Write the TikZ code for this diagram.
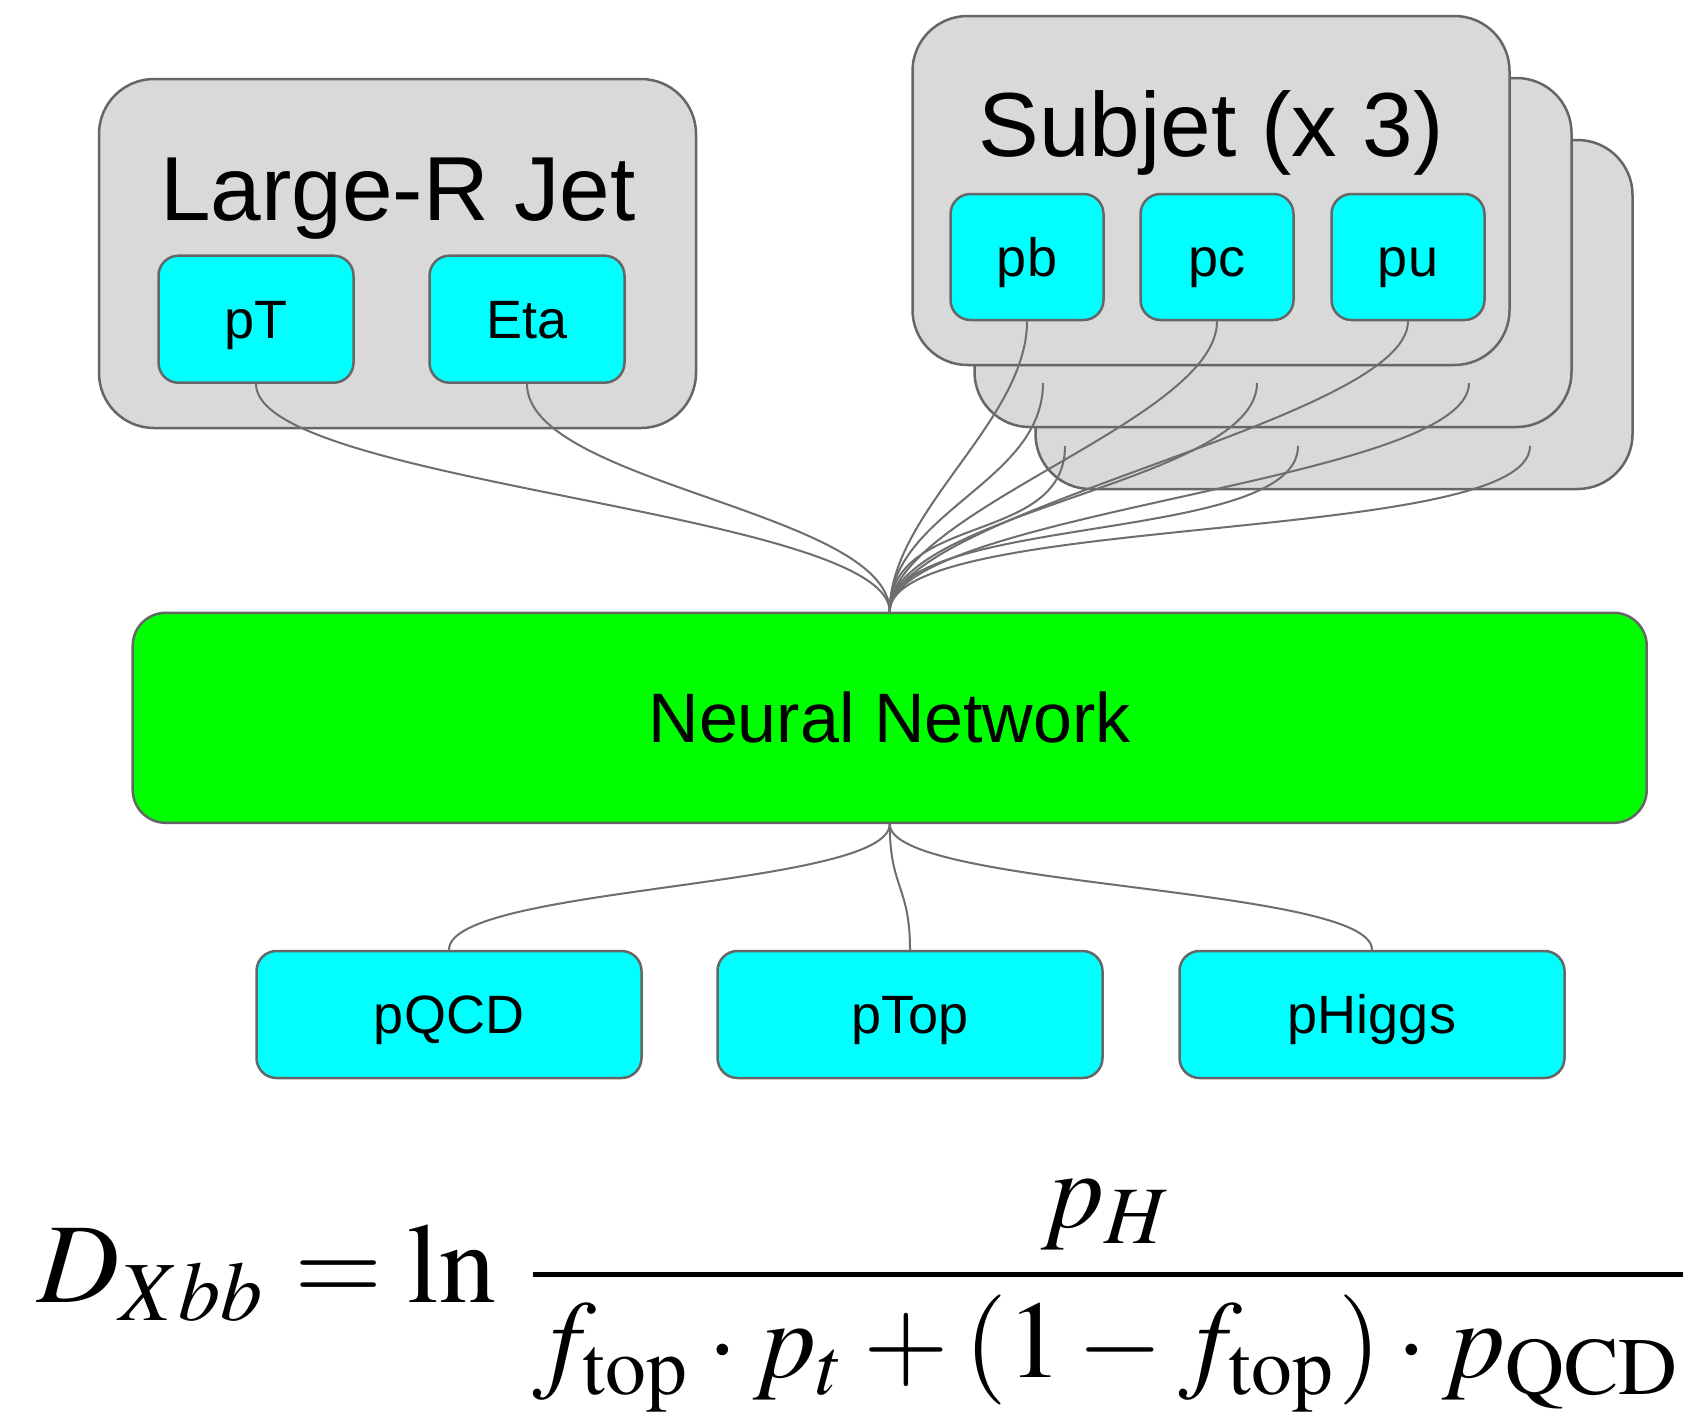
\documentclass[tikz,border=0pt]{standalone}
\usepackage{mathptmx}
\usepackage[no-math]{fontspec}
\usepackage{graphicx}
\newfontfamily\arial{Liberation Sans}

\definecolor{boxgray}{HTML}{D9D9D9}
\definecolor{edgegray}{HTML}{666666}
\definecolor{wiregray}{HTML}{6E6E6E}
\definecolor{inputcyan}{HTML}{00FFFF}
\definecolor{netgreen}{HTML}{00FF00}

\tikzset{
  groupbox/.style={draw=edgegray, fill=boxgray, line width=2.5pt,
    rounded corners=55pt, inner sep=0pt, minimum width=597pt, minimum height=349pt},
  varbox/.style={draw=edgegray, fill=inputcyan, line width=2.5pt,
    rounded corners=20pt, inner sep=0pt, font=\arial\fontsize{54}{60}\selectfont,
    text height=38.7pt, text depth=0pt},
  netbox/.style={draw=edgegray, fill=netgreen, line width=2.5pt,
    rounded corners=33pt, inner sep=0pt, font=\arial\fontsize{70}{80}\selectfont,
    text height=50.1pt, text depth=0pt, minimum width=1514pt, minimum height=210pt},
  title/.style={anchor=base, inner sep=0pt, font=\arial\fontsize{91}{100}\selectfont},
  wire/.style={draw=wiregray, line width=2pt},
  eqpart/.style={anchor=base west, inner sep=0pt},
}

\begin{document}
\begin{tikzpicture}[x=1pt, y=-1pt]
\useasboundingbox (0,0) rectangle (1691,1411);
\fill[white] (0,0) rectangle (1691,1411);

% large-R jet group
\node[groupbox] (jet) at (397.5,253.5) {};
\node[title] (jettitle) at (398,220) {Large-R Jet};
\node[varbox, minimum width=195pt, minimum height=127pt] (pT) at (256,319.2) {pT};
\node[varbox, minimum width=195pt, minimum height=127pt] (eta) at (527,319.2) {Eta};

% stacked subjet groups (back to front)
\node[groupbox] (sj3) at (1334,314.5) {};
\node[groupbox] (sj2) at (1273,252.5) {};
\node[groupbox] (sj1) at (1211,190.5) {};
\node[title] (sjtitle) at (1211,156.5) {Subjet (x 3)};
\node[varbox, minimum width=153pt, minimum height=126pt] (pb) at (1027,257) {pb};
\node[varbox, minimum width=153pt, minimum height=126pt] (pc) at (1217,257) {pc};
\node[varbox, minimum width=153pt, minimum height=126pt] (pu) at (1408,257) {pu};

% outputs of the hidden subjet copies
\coordinate (pb2) at (1043,383);
\coordinate (pc2) at (1257,383);
\coordinate (pu2) at (1469,383);
\coordinate (pb3) at (1065,446);
\coordinate (pc3) at (1298,446);
\coordinate (pu3) at (1530,446);

% network
\node[netbox] (nn) at (889.7,717.8) {Neural Network};

% output classes
\node[varbox, minimum width=385pt, minimum height=127pt] (pqcd) at (449,1014.5) {pQCD};
\node[varbox, minimum width=385pt, minimum height=127pt] (ptop) at (910,1014.5) {pTop};
\node[varbox, minimum width=385pt, minimum height=127pt] (phiggs) at (1372,1014.5) {pHiggs};

% inputs into the network
\foreach \src in {pT, eta, pb, pc, pu}
  \draw[wire] (\src.south) .. controls +(0,100) and +(0,-100) .. (nn.north);
\foreach \src in {pb2, pc2, pu2, pb3, pc3, pu3}
  \draw[wire] (\src) .. controls +(0,100) and +(0,-100) .. (nn.north);

% network to outputs
\foreach \dst in {pqcd, ptop, phiggs}
  \draw[wire] (nn.south) .. controls +(0,64) and +(0,-64) .. (\dst.north);

% discriminant: left-hand side and the fraction
\node[eqpart] (lhs) at (37.5,1302)
  {\resizebox{458pt}{!}{$\displaystyle D_{Xbb} = \ln$}};
\node[eqpart] (ratio) at (532.5,1302)
  {\resizebox{1150pt}{!}{\nulldelimiterspace=0pt
   $\displaystyle \frac{p_H}{f_{\mathrm{top}}\cdot p_t + (1-f_{\mathrm{top}})\cdot p_{\mathrm{QCD}}}$}};
\end{tikzpicture}
\end{document}
